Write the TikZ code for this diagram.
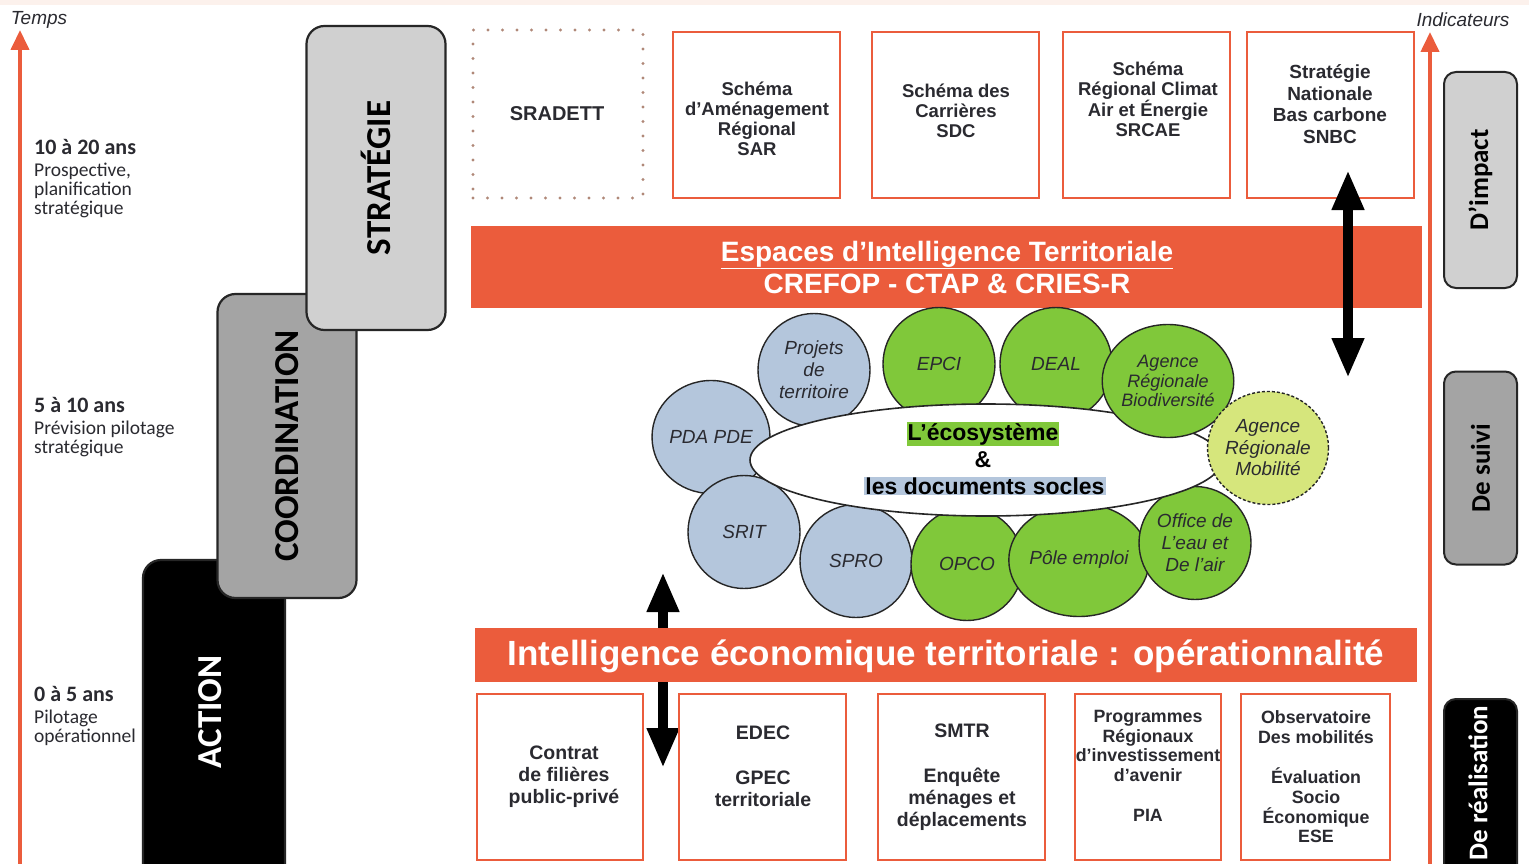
\documentclass[tikz,border=0pt]{standalone}
\usepackage{fontspec}
\setmainfont{Liberation Sans}
\newfontfamily\cali{Carlito}
\usetikzlibrary{arrows.meta,shapes.geometric}
\definecolor{accent}{HTML}{EB5C3C}
\definecolor{stagelight}{HTML}{D0D0D0}
\definecolor{stagemid}{HTML}{A4A4A4}
\definecolor{actorgreen}{HTML}{80C83A}
\definecolor{docblue}{HTML}{B4C6DC}
\definecolor{mobil}{HTML}{D6E67C}
\definecolor{dotgrey}{HTML}{B08878}
\definecolor{inktext}{HTML}{2A2A30}
\definecolor{topstrip}{HTML}{FCF1EC}
\begin{document}
\begin{tikzpicture}[x=1pt,y=-1pt,
  axis/.style={draw=accent,line width=4pt,-{Triangle[width=18pt,length=20pt]}},
  stage/.style={draw=black!85,line width=2.2pt,rounded corners=18pt,inner sep=0pt,
    font=\cali\fontsize{35}{38}\selectfont\bfseries},
  gauge/.style={draw=black!85,line width=2pt,rounded corners=12pt,inner sep=0pt,
    minimum width=73pt,font=\cali\fontsize{27}{30}\selectfont\bfseries},
  docbox/.style={draw=accent,line width=2pt,fill=white,inner sep=0pt},
  doctext/.style={align=center,inner sep=0pt,text=inktext,font=\fontsize{18.5}{20}\selectfont\bfseries},
  lowtext/.style={align=center,inner sep=0pt,text=inktext,font=\fontsize{19.5}{22}\selectfont\bfseries},
  band/.style={fill=accent,inner sep=0pt},
  bubble/.style={ellipse,draw=black!85,line width=1.4pt,minimum width=112pt,minimum height=113pt,
    inner sep=0pt,align=center,text=inktext,font=\fontsize{19}{22}\selectfont\itshape},
  twoway/.style={draw=black,line width=10pt,{Triangle[width=30pt,length=40pt]}-{Triangle[width=30pt,length=40pt]}},
  agetext/.style={anchor=north west,align=left,inner sep=0pt,text=inktext,font=\cali\fontsize{19.5}{19.2}\selectfont},
  ecotext/.style={inner sep=0pt,text=black,font=\fontsize{23}{26}\selectfont\bfseries}
]
\useasboundingbox (0,0) rectangle (1529,864);
\fill[white] (0,0) rectangle (1529,864);
\fill[topstrip] (0,0) rectangle (1529,5);

% ---- time axis and horizons
\coordinate (tbase) at (20,864);
\coordinate (ttop) at (20,30);
\draw[axis] (tbase) -- (ttop);
\node[inner sep=0pt,font=\fontsize{19}{20}\selectfont\itshape,text=inktext] (temps) at (39,20) {Temps};

\node[agetext] (h1) at (34,139) {{\fontsize{22}{22}\selectfont\bfseries 10 à 20 ans}\\[2.5pt]Prospective,\\planification\\stratégique};
\node[agetext] (h2) at (34,397) {{\fontsize{22}{22}\selectfont\bfseries 5 à 10 ans}\\[2.5pt]Prévision pilotage\\stratégique};
\node[agetext] (h3) at (34,686) {{\fontsize{22}{22}\selectfont\bfseries 0 à 5 ans}\\[2.5pt]Pilotage\\opérationnel};

% ---- staircase of levels
\node[stage,fill=black,minimum width=142pt,minimum height=340pt] (action) at (214,730) {};
\node[rotate=90,inner sep=0pt,text=white,font=\cali\fontsize{35}{38}\selectfont\bfseries] (actiontxt) at (210,712) {ACTION};
\node[stage,fill=stagemid,rotate=90,minimum width=304pt,minimum height=139pt] (coord) at (287,446) {COORDINATION};
\node[stage,fill=stagelight,rotate=90,minimum width=304pt,minimum height=139pt] (strat) at (376,178) {STRATÉGIE};

% ---- indicator axis and gauges
\coordinate (ibase) at (1430,864);
\coordinate (itop) at (1430,32);
\draw[axis] (ibase) -- (itop);
\node[inner sep=0pt,font=\fontsize{19}{20}\selectfont\itshape,text=inktext] (indic) at (1463,20) {Indicateurs};
\node[gauge,fill=stagelight,rotate=90,minimum width=216pt,minimum height=73pt] (impact) at (1480.5,180) {D’impact};
\node[gauge,fill=stagemid,rotate=90,minimum width=193pt,minimum height=73pt] (suivi) at (1480.5,468) {De suivi};
\node[gauge,fill=black,minimum width=73pt,minimum height=200pt] (realis) at (1480.5,799) {};
\node[rotate=90,inner sep=0pt,text=white,font=\cali\fontsize{27}{30}\selectfont\bfseries] (realistxt) at (1478,783) {De réalisation};

% ---- strategic documents
\node[draw=dotgrey,line width=3.4pt,dash pattern=on 0pt off 14.5pt,line cap=round,
      minimum width=170pt,minimum height=168pt,inner sep=0pt] (sradett) at (558,114) {};
\node[doctext,font=\fontsize{20}{22}\selectfont\bfseries] (sradetttxt) at (557,114) {SRADETT};
\node[docbox,minimum width=167pt,minimum height=166pt] (sar) at (756.5,115) {};
\node[doctext] (sartxt) at (757,119) {Schéma\\d’Aménagement\\Régional\\SAR};
\node[docbox,minimum width=167pt,minimum height=166pt] (sdc) at (955.5,115) {};
\node[doctext] (sdctxt) at (956,111) {Schéma des\\Carrières\\SDC};
\node[docbox,minimum width=167pt,minimum height=166pt] (srcae) at (1146.5,115) {};
\node[doctext] (srcaetxt) at (1148,99) {Schéma\\Régional Climat\\Air et Énergie\\SRCAE};
\node[docbox,minimum width=167pt,minimum height=166pt] (snbc) at (1330.5,115) {};
\node[doctext,font=\fontsize{19}{21.5}\selectfont\bfseries] (snbctxt) at (1330,104) {Stratégie\\Nationale\\Bas carbone\\SNBC};

% ---- territorial intelligence band
\node[band,minimum width=951pt,minimum height=82pt] (espaces) at (946.5,267) {};
\node[inner sep=0pt,align=center,text=white,font=\fontsize{28}{32}\selectfont\bfseries] (espacestxt) at (947,267)
  {\underline{Espaces d’Intelligence Territoriale}\\CREFOP - CTAP \& CRIES-R};

% ---- ecosystem ring
\node[bubble,fill=docblue] (pda) at (711,437) {PDA PDE};
\node[bubble,fill=docblue] (projets) at (814,370) {Projets\\de\\territoire};
\node[bubble,fill=actorgreen] (epci) at (939,364) {EPCI};
\node[bubble,fill=actorgreen] (deal) at (1056,364) {DEAL};
\node[bubble,fill=docblue] (srit) at (744,532) {SRIT};
\node[bubble,fill=docblue] (spro) at (856,561) {SPRO};
\node[bubble,fill=actorgreen] (opco) at (967,564) {OPCO};
\node[bubble,fill=actorgreen] (pole) at (1079,560) {Pôle emploi};
\node[bubble,fill=actorgreen] (office) at (1195,543) {Office de\\L’eau et\\De l’air};
\node[ellipse,draw=black!85,line width=1.6pt,fill=white,minimum width=472pt,minimum height=112pt,inner sep=0pt] (eco) at (986,460) {};
\node[bubble,fill=actorgreen,font=\fontsize{18}{19.5}\selectfont\itshape] (arb) at (1168,381) {Agence\\Régionale\\Biodiversité};
\node[bubble,fill=mobil,dashed,dash pattern=on 3pt off 2pt,font=\fontsize{19}{21.5}\selectfont\itshape] (arm) at (1268,448) {Agence\\Régionale\\Mobilité};
\setlength{\fboxsep}{1pt}
\node[ecotext] (ecotop) at (983,434) {\colorbox{actorgreen}{L’écosystème}};
\node[ecotext] (ecoamp) at (983,460) {\&};
\node[ecotext] (ecobot) at (985,486) {\colorbox{docblue}{les documents socles}};

% ---- exchange between operations and the ecosystem (under the band)
\coordinate (downA) at (663,572);
\coordinate (downB) at (663,768);
\draw[twoway] (downA) -- (downB);

% ---- operational band
\node[band,minimum width=942pt,minimum height=54pt] (operation) at (946,655) {};
\node[inner sep=0pt,text=white,font=\fontsize{35}{38}\selectfont\bfseries] (operationtxt) at (946,656)
  {Intelligence économique territoriale : opérationnalité};

% ---- operational tools
\node[docbox,minimum width=166pt,minimum height=166pt] (contrat) at (560,777) {};
\node[lowtext] (contrattxt) at (564,777) {Contrat\\de filières\\public-privé};
\node[docbox,minimum width=167pt,minimum height=166pt] (edec) at (762.5,777) {};
\node[lowtext] (edectxt) at (763,766) {EDEC\\[23pt]GPEC\\territoriale};
\node[docbox,minimum width=167pt,minimum height=166pt] (smtr) at (961.5,777) {};
\node[lowtext] (smtrtxt) at (962,777) {SMTR\\[23pt]Enquête\\ménages et\\déplacements};
\node[docbox,minimum width=146pt,minimum height=166pt] (pia) at (1148,777) {};
\node[lowtext,font=\fontsize{17.8}{19.5}\selectfont\bfseries] (piatxt) at (1148,766) {Programmes\\Régionaux\\d’investissement\\d’avenir\\[21pt]PIA};
\node[docbox,minimum width=149pt,minimum height=166pt] (obs) at (1315.5,777) {};
\node[lowtext,font=\fontsize{17.8}{19.8}\selectfont\bfseries] (obstxt) at (1316,777) {Observatoire\\Des mobilités\\[20pt]Évaluation\\Socio\\Économique\\ESE};

% ---- exchange between documents and the ecosystem (over the band)
\coordinate (upA) at (1348,378);
\coordinate (upB) at (1348,170);
\draw[twoway] (upA) -- (upB);
\end{tikzpicture}
\end{document}
